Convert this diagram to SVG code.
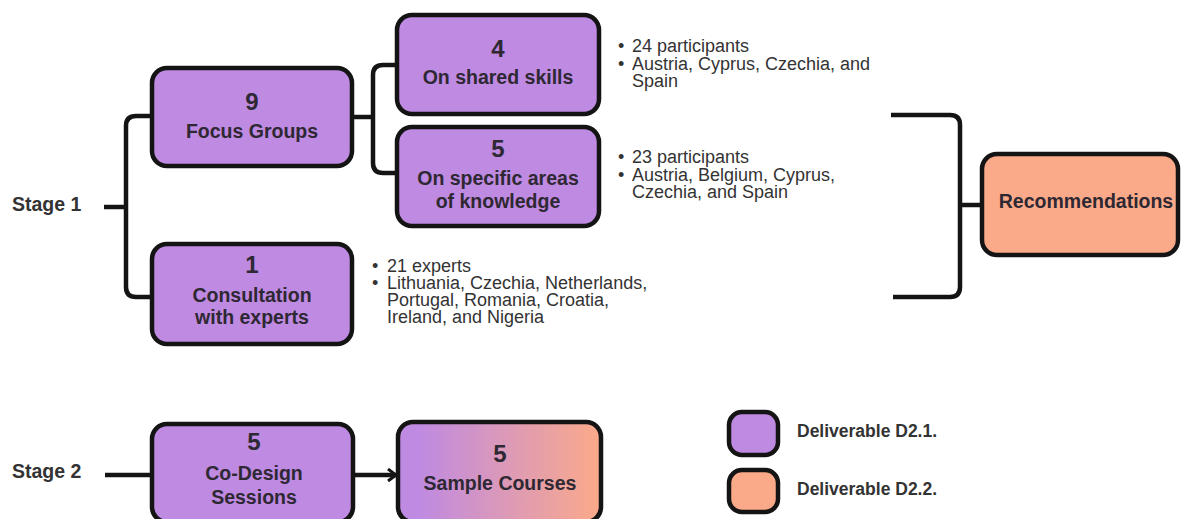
<svg xmlns="http://www.w3.org/2000/svg" width="1181" height="519" viewBox="0 0 1181 519">
<style>
.box{stroke:#141414;stroke-width:4.5}
.p{fill:#bf8ae2}
.o{fill:#fbaa89}
.num{font-family:"Liberation Sans",Arial,sans-serif;font-weight:bold;font-size:24px;fill:#2e2833;text-anchor:middle}
.lbl{font-family:"Liberation Sans",Arial,sans-serif;font-weight:bold;font-size:19.5px;fill:#2e2833;text-anchor:middle}
.stage{font-family:"Liberation Sans",Arial,sans-serif;font-weight:bold;font-size:19.5px;fill:#333}
.leg{font-family:"Liberation Sans",Arial,sans-serif;font-weight:bold;font-size:17.5px;fill:#333}
.bul{font-family:"Liberation Sans",Arial,sans-serif;font-size:18px;fill:#333}
.ln{fill:none;stroke:#141414;stroke-width:4.5;stroke-linecap:butt}
</style>
<defs>
<linearGradient id="g" x1="0" y1="0" x2="1" y2="0">
<stop offset="0.1" stop-color="#bf8ae2"/>
<stop offset="1" stop-color="#fbaa89"/>
</linearGradient>
<marker id="arr" markerWidth="12" markerHeight="14" refX="10" refY="7" orient="auto" markerUnits="userSpaceOnUse">
<path d="M2 1 L10 7 L2 13" fill="none" stroke="#141414" stroke-width="3"/>
</marker>
</defs>
<g id="connectors">
<path class="ln" d="M104 207 H126"/>
<path class="ln" d="M152 116 H136 Q126 116 126 126 V287 Q126 297 136 297 H152"/>
<path class="ln" d="M352 117 H373"/>
<path class="ln" d="M397 65 H383 Q373 65 373 75 V163 Q373 173 383 173 H397"/>
<path class="ln" d="M891 115 H950 Q960 115 960 125 V287 Q960 297 950 297 H893"/>
<path class="ln" d="M960 205 H982"/>
<path class="ln" d="M105 475 H152"/>
<path class="ln" d="M355 475 H396" marker-end="url(#arr)"/>
</g>
<g id="stage1"><text class="stage" x="12" y="211">Stage 1</text></g>
<g id="stage2"><text class="stage" x="12" y="478">Stage 2</text></g>
<g id="focus">
<rect class="box p" x="152" y="68" width="200" height="98" rx="15"/>
<text class="num" x="252" y="110">9</text>
<text class="lbl" x="252" y="138">Focus Groups</text>
</g>
<g id="shared">
<rect class="box p" x="397" y="15" width="202" height="99" rx="15"/>
<text class="num" x="498" y="57">4</text>
<text class="lbl" x="498" y="84">On shared skills</text>
</g>
<g id="specific">
<rect class="box p" x="397" y="127" width="202" height="99" rx="15"/>
<text class="num" x="498" y="157">5</text>
<text class="lbl" x="498" y="185"><tspan x="498" y="185">On specific areas</tspan><tspan x="498" y="208">of knowledge</tspan></text>
</g>
<g id="consult">
<rect class="box p" x="152" y="244" width="200" height="100" rx="15"/>
<text class="num" x="252" y="273">1</text>
<text class="lbl" x="252" y="302"><tspan x="252" y="302">Consultation</tspan><tspan x="252" y="324">with experts</tspan></text>
</g>
<g id="bullets1">
<text class="bul"><tspan x="618" y="52">•</tspan><tspan x="632" y="52">24 participants</tspan><tspan x="618" y="69.5">•</tspan><tspan x="632" y="69.5">Austria, Cyprus, Czechia, and</tspan><tspan x="632" y="87">Spain</tspan></text>
</g>
<g id="bullets2">
<text class="bul"><tspan x="618" y="163">•</tspan><tspan x="632" y="163">23 participants</tspan><tspan x="618" y="181">•</tspan><tspan x="632" y="181">Austria, Belgium, Cyprus,</tspan><tspan x="632" y="198">Czechia, and Spain</tspan></text>
</g>
<g id="bullets3">
<text class="bul"><tspan x="372" y="272">•</tspan><tspan x="387" y="272">21 experts</tspan><tspan x="372" y="289">•</tspan><tspan x="387" y="289">Lithuania, Czechia, Netherlands,</tspan><tspan x="387" y="306">Portugal, Romania, Croatia,</tspan><tspan x="387" y="323">Ireland, and Nigeria</tspan></text>
</g>
<g id="recommendations">
<rect class="box o" x="982" y="154" width="196" height="101" rx="15"/>
<text class="lbl" x="1086" y="208">Recommendations</text>
</g>
<g id="codesign">
<rect class="box p" x="152" y="424" width="201" height="98" rx="15"/>
<text class="num" x="254" y="450">5</text>
<text class="lbl" x="254" y="480"><tspan x="254" y="480">Co-Design</tspan><tspan x="254" y="504">Sessions</tspan></text>
</g>
<g id="sample">
<rect class="box" fill="url(#g)" x="398" y="422" width="203" height="100" rx="15"/>
<text class="num" x="500" y="462">5</text>
<text class="lbl" x="500" y="490">Sample Courses</text>
</g>
<g id="legend1">
<rect class="box p" x="729" y="412" width="49" height="43" rx="13"/>
<text class="leg" x="797" y="437">Deliverable D2.1.</text>
</g>
<g id="legend2">
<rect class="box o" x="729" y="470" width="49" height="42" rx="13"/>
<text class="leg" x="797" y="495">Deliverable D2.2.</text>
</g>
</svg>
